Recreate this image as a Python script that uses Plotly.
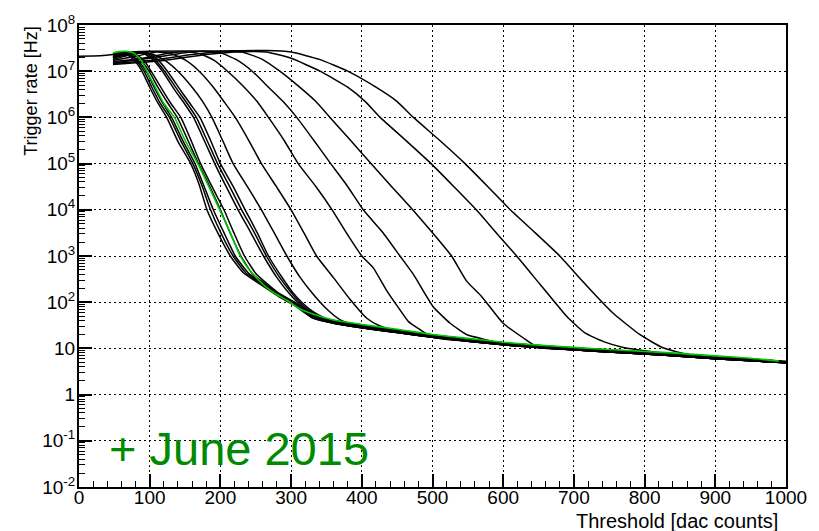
import plotly.graph_objects as go

# Shared low-rate tail (noise floor) read at three heights of the bundle
FLOOR_X = [330, 360, 400, 450, 500, 550, 600, 650, 700, 750, 800, 850, 900, 950, 1000]
FLOOR_HI = [52, 40, 32, 25, 19.5, 16, 13.2, 11.5, 10.2, 9.2, 8.4, 7.6, 6.7, 5.9, 5.2]
FLOOR_MID = [49, 37.5, 30, 23.5, 18.5, 15.2, 12.6, 11.0, 9.8, 8.8, 8.0, 7.2, 6.35, 5.65, 5.05]
FLOOR_LO = [46, 35, 28, 22, 17.5, 14.3, 12, 10.4, 9.3, 8.4, 7.6, 6.8, 6.0, 5.4, 4.9]
GREEN_FLOOR = [56, 41, 33, 26, 20, 16.5, 13.6, 11.8, 10.5, 9.5, 8.6, 7.8, 6.9, 6.1, 5.3]

# Rate-vs-threshold scans (head of each curve before it meets the floor)
B1_X = [48, 58, 68, 80, 89, 100, 112, 124, 140, 158, 170, 181, 197, 214, 232, 249, 265, 285, 305]
B1_Y = [2.3e7, 2.45e7, 2.3e7, 1.6e7, 1.0e7, 4.5e6, 2.0e6, 1.0e6, 3.0e5, 1.0e5, 3.5e4, 1.0e4, 3.0e3, 1.0e3, 440, 290, 200, 125, 85]
B2_X = [48, 60, 70, 82, 92, 103, 115, 128, 144, 161, 174, 186, 201, 218, 236, 252, 268, 290, 310]
B2_Y = [2.4e7, 2.55e7, 2.4e7, 1.65e7, 1.0e7, 4.5e6, 2.0e6, 1.0e6, 3.1e5, 1.0e5, 3.3e4, 1.0e4, 3.1e3, 1.0e3, 430, 290, 200, 120, 80]
B3_X = [48, 60, 72, 85, 95, 106, 118, 131, 147, 164, 177, 190, 205, 221, 240, 256, 272, 293, 312]
B3_Y = [2.2e7, 2.45e7, 2.35e7, 1.6e7, 1.0e7, 4.6e6, 2.1e6, 1.0e6, 3.1e5, 1.0e5, 3.2e4, 1.0e4, 3.2e3, 1.0e3, 420, 280, 190, 115, 78]
B4_X = [48, 62, 75, 88, 99, 112, 125, 139, 154, 169, 185, 200, 214, 229, 246, 262, 278, 300, 316]
B4_Y = [2.0e7, 2.35e7, 2.4e7, 1.7e7, 1.0e7, 4.4e6, 2.1e6, 1.0e6, 3.2e5, 1.0e5, 3.2e4, 1.0e4, 3.1e3, 1.0e3, 400, 260, 170, 105, 72]
B5_X = [48, 64, 78, 92, 102, 116, 130, 144, 158, 172, 188, 205, 219, 234, 250, 265, 282, 305, 320]
B5_Y = [1.9e7, 2.3e7, 2.45e7, 1.7e7, 1.0e7, 4.4e6, 2.0e6, 1.0e6, 3.3e5, 1.0e5, 3.2e4, 1.0e4, 3.2e3, 1.0e3, 420, 260, 160, 100, 68]

C1_X = [48, 70, 90, 104, 118, 135, 150, 162, 177, 192, 208, 225, 243, 261, 280, 295, 309, 322, 340]
C1_Y = [2.1e7, 2.45e7, 2.5e7, 1.8e7, 1.0e7, 4.0e6, 1.9e6, 1.0e6, 3.2e5, 1.0e5, 3.2e4, 1.0e4, 3.2e3, 1.0e3, 340, 170, 100, 68, 47]
C2_X = [48, 72, 93, 107, 121, 139, 154, 166, 181, 196, 213, 230, 248, 265, 284, 299, 312, 326, 344]
C2_Y = [2.0e7, 2.4e7, 2.5e7, 1.8e7, 1.0e7, 4.0e6, 1.9e6, 1.0e6, 3.2e5, 1.0e5, 3.2e4, 1.0e4, 3.2e3, 1.0e3, 340, 170, 100, 66, 46]
C3_X = [48, 74, 96, 111, 125, 143, 158, 171, 186, 200, 218, 235, 252, 268, 288, 302, 315, 330, 348]
C3_Y = [1.95e7, 2.35e7, 2.5e7, 1.8e7, 1.0e7, 4.0e6, 1.9e6, 1.0e6, 3.2e5, 1.0e5, 3.2e4, 1.0e4, 3.2e3, 1.0e3, 330, 165, 100, 64, 45]
C4_X = [48, 70, 90, 105, 122, 140, 160, 175, 188, 203, 218, 238, 258, 276, 294, 313, 331, 350, 369]
C4_Y = [1.8e7, 2.2e7, 2.55e7, 2.3e7, 1.7e7, 1.0e7, 4.5e6, 2.2e6, 1.0e6, 3.2e5, 1.0e5, 3.2e4, 1.0e4, 3.2e3, 1.0e3, 340, 150, 72, 42]
C5_X = [48, 80, 110, 130, 150, 170, 190, 206, 221, 240, 258, 279, 300, 318, 336, 360, 383, 407, 425]
C5_Y = [1.7e7, 2.1e7, 2.6e7, 2.4e7, 1.75e7, 1.0e7, 4.5e6, 2.1e6, 1.0e6, 3.2e5, 1.0e5, 3.2e4, 1.0e4, 3.2e3, 1.0e3, 340, 117, 45, 31]
C6_X = [48, 90, 130, 150, 170, 190, 210, 232, 252, 268, 290, 310, 335, 358, 378, 400, 416, 435, 454, 466, 480]
C6_Y = [1.6e7, 1.9e7, 2.5e7, 2.65e7, 2.4e7, 1.75e7, 1.0e7, 4.8e6, 2.2e6, 1.0e6, 3.2e5, 1.0e5, 3.2e4, 1.0e4, 3.2e3, 1.0e3, 560, 180, 68, 38, 27]
C7_X = [48, 100, 150, 175, 200, 222, 245, 268, 290, 308, 332, 356, 380, 402, 430, 454, 473, 501, 525, 548, 575]
C7_Y = [1.5e7, 1.9e7, 2.5e7, 2.7e7, 2.5e7, 1.8e7, 1.0e7, 4.5e6, 2.1e6, 1.0e6, 3.2e5, 1.0e5, 3.2e4, 1.0e4, 3.2e3, 1.0e3, 400, 80, 35, 20, 15.5]
C8_X = [48, 100, 160, 200, 230, 258, 284, 310, 335, 355, 384, 413, 442, 472, 500, 527, 548, 570, 600, 628]
C8_Y = [1.45e7, 1.7e7, 2.3e7, 2.65e7, 2.6e7, 1.85e7, 1.0e7, 4.8e6, 2.2e6, 1.0e6, 3.2e5, 1.0e5, 3.2e4, 1.0e4, 3.2e3, 1.0e3, 290, 130, 35, 17]
C9_X = [48, 120, 180, 230, 265, 300, 341, 380, 405, 426, 462, 498, 530, 562, 590, 619, 652, 673, 690, 715, 742, 770, 803]
C9_Y = [1.4e7, 1.7e7, 2.3e7, 2.65e7, 2.6e7, 1.9e7, 1.0e7, 4.5e6, 2.2e6, 1.0e6, 3.2e5, 1.0e5, 3.2e4, 1.0e4, 3.2e3, 1.0e3, 245, 100, 49, 22, 14, 10.5, 8.8]
C10_X = [0, 30, 48, 65, 100, 200, 265, 300, 340, 380, 420, 450, 473, 510, 546, 578, 610, 645, 680, 710, 740, 756, 793, 826, 869]
C10_Y = [2.1e7, 2.15e7, 2.3e7, 2.55e7, 2.7e7, 2.75e7, 2.8e7, 2.6e7, 1.8e7, 1.0e7, 4.5e6, 2.2e6, 1.0e6, 3.2e5, 1.0e5, 3.2e4, 1.0e4, 3.2e3, 1.0e3, 310, 100, 57, 20, 10.3, 7.0]

GREEN_X = [48, 57, 66, 78, 88, 96, 108, 120, 135, 150, 168, 184, 199, 214, 228, 240, 250, 265, 280, 294, 310]
GREEN_Y = [2.5e7, 2.65e7, 2.7e7, 2.45e7, 1.7e7, 1.0e7, 4.5e6, 2.0e6, 1.0e6, 3.2e5, 1.0e5, 3.1e4, 1.0e4, 3.2e3, 1.0e3, 520, 350, 210, 145, 110, 75]
GREEN_END = 990

# (head x, head y, floor, last threshold scanned)
BLACK_SCANS = [
    (B1_X, B1_Y, FLOOR_LO, 1000),
    (B2_X, B2_Y, FLOOR_MID, 1000),
    (B3_X, B3_Y, FLOOR_LO, 1000),
    (B4_X, B4_Y, FLOOR_HI, 1000),
    (B5_X, B5_Y, FLOOR_MID, 1000),
    (C1_X, C1_Y, FLOOR_LO, 1000),
    (C2_X, C2_Y, FLOOR_MID, 1000),
    (C3_X, C3_Y, FLOOR_HI, 1000),
    (C4_X, C4_Y, FLOOR_LO, 1000),
    (C5_X, C5_Y, FLOOR_MID, 1000),
    (C6_X, C6_Y, FLOOR_LO, 1000),
    (C7_X, C7_Y, FLOOR_MID, 1000),
    (C8_X, C8_Y, FLOOR_LO, 1000),
    (C9_X, C9_Y, FLOOR_MID, 972),
    (C10_X, C10_Y, FLOOR_HI, 930),
]

X_TICKS = list(range(0, 1001, 100))
X_MINOR = [v for v in range(0, 1001, 20) if v % 100]
Y_TICKS = [1e-2, 1e-1, 1, 10, 1e2, 1e3, 1e4, 1e5, 1e6, 1e7, 1e8]
Y_TICKTEXT = ["10<sup>-2</sup>", "10<sup>-1</sup>", "1", "10", "10<sup>2</sup>", "10<sup>3</sup>",
              "10<sup>4</sup>", "10<sup>5</sup>", "10<sup>6</sup>", "10<sup>7</sup>", "10<sup>8</sup>"]
Y_MINOR = [m * 10.0 ** e for e in range(-2, 8) for m in range(2, 10)]

FONT = "Liberation Sans, Arial, Helvetica, sans-serif"


def full_curve(hx, hy, floor_y, x_end):
    xs, ys = list(hx), list(hy)
    for fx, fy in zip(FLOOR_X, floor_y):
        if fx > hx[-1] + 10 and fx <= x_end:
            xs.append(fx)
            ys.append(fy)
    if xs[-1] < x_end:
        # last scanned point sits on the floor between two floor samples
        for i in range(len(FLOOR_X) - 1):
            if FLOOR_X[i] < x_end < FLOOR_X[i + 1]:
                xs.append(x_end)
                ys.append(floor_y[i + 1])
                break
    return xs, ys


fig = go.Figure()
for hx, hy, fl, xe in BLACK_SCANS:
    xs, ys = full_curve(hx, hy, fl, xe)
    fig.add_trace(go.Scatter(x=xs, y=ys, mode="lines",
                             line=dict(color="black", width=1.5, shape="spline", smoothing=0.5),
                             hoverinfo="skip"))

gx, gy = full_curve(GREEN_X, GREEN_Y, GREEN_FLOOR, GREEN_END)
fig.add_trace(go.Scatter(x=gx, y=gy, mode="lines",
                         line=dict(color="#00c800", width=1.6, shape="spline", smoothing=0.5),
                         hoverinfo="skip"))

fig.update_layout(
    width=819, height=531,
    margin=dict(l=79, r=33, t=15, b=44),
    paper_bgcolor="white", plot_bgcolor="white",
    showlegend=False,
    font=dict(family=FONT, color="black", size=19),
)
fig.update_xaxes(
    range=[0, 1000], tickvals=X_TICKS, ticks="inside", ticklen=13, tickwidth=1.5,
    tickcolor="black", showline=True, linecolor="black", linewidth=2, mirror=True,
    showgrid=True, gridcolor="black", gridwidth=1, griddash="2px,3px",
    zeroline=False, tickfont=dict(size=19, family=FONT), ticklabelstandoff=-8,
    minor=dict(tickvals=X_MINOR, ticks="inside", ticklen=6, tickwidth=1.2,
               tickcolor="black", showgrid=False),
)
fig.update_yaxes(
    type="log", range=[-2, 8], tickvals=Y_TICKS, ticktext=Y_TICKTEXT,
    ticks="inside", ticklen=13, tickwidth=1.5, tickcolor="black",
    showline=True, linecolor="black", linewidth=2, mirror=True,
    showgrid=True, gridcolor="black", gridwidth=1, griddash="2px,3px",
    zeroline=False, tickfont=dict(size=19, family=FONT), ticklabelstandoff=-2,
    minor=dict(tickvals=Y_MINOR, ticks="inside", ticklen=6, tickwidth=1.2,
               tickcolor="black", showgrid=False),
)

fig.add_annotation(text="Threshold [dac counts]", xref="paper", yref="paper",
                   x=0.9915, y=-0.074, xanchor="right", yanchor="middle",
                   showarrow=False, font=dict(size=20, family=FONT))
fig.add_annotation(text="Trigger rate [Hz]", xref="paper", yref="paper",
                   x=-0.069, y=1.0, xanchor="center", yanchor="top", textangle=-90,
                   showarrow=False, font=dict(size=18, family=FONT))
fig.add_annotation(text="+ June 2015", xref="paper", yref="paper",
                   x=0.040, y=0.084, xanchor="left", yanchor="middle",
                   showarrow=False, font=dict(size=47, family=FONT, color="#008a00"))

fig.write_html("out.html")
